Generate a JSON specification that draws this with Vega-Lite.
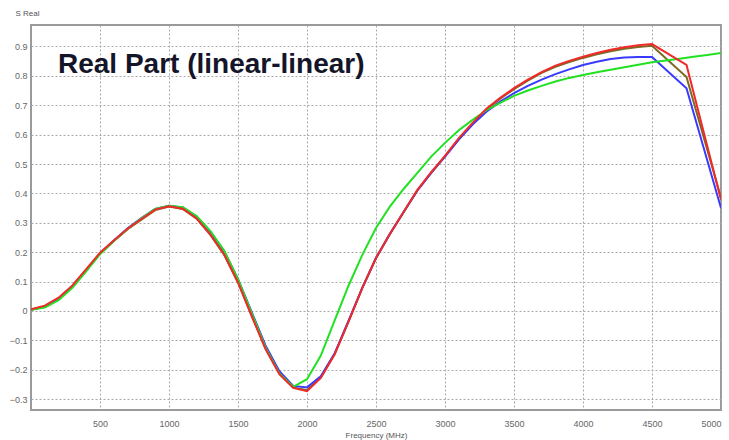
{
  "$schema": "https://vega.github.io/schema/vega-lite/v6.json",
  "width": 690,
  "height": 385,
  "autosize": "none",
  "padding": {"left": 31, "top": 25, "right": 8, "bottom": 30},
  "background": "white",
  "config": {
    "view": {"stroke": "#9a9a9a", "strokeWidth": 2},
    "font": "Liberation Sans"
  },
  "title": {
    "text": "Real Part (linear-linear)",
    "anchor": "start",
    "frame": "group",
    "offset": -70,
    "dx": 27,
    "fontSize": 28,
    "fontWeight": "bold",
    "font": "Liberation Sans",
    "color": "#15152a"
  },
  "data": {
    "values": [
      {"s":"olive","f":0,"v":0.004},{"s":"olive","f":100,"v":0.015},{"s":"olive","f":200,"v":0.042},{"s":"olive","f":300,"v":0.084},{"s":"olive","f":400,"v":0.139},{"s":"olive","f":500,"v":0.195},{"s":"olive","f":600,"v":0.238},{"s":"olive","f":700,"v":0.278},{"s":"olive","f":800,"v":0.311},{"s":"olive","f":900,"v":0.343},{"s":"olive","f":1000,"v":0.355},{"s":"olive","f":1100,"v":0.347},{"s":"olive","f":1200,"v":0.314},{"s":"olive","f":1300,"v":0.259},{"s":"olive","f":1400,"v":0.191},{"s":"olive","f":1500,"v":0.097},{"s":"olive","f":1600,"v":-0.017},{"s":"olive","f":1700,"v":-0.129},{"s":"olive","f":1800,"v":-0.213},{"s":"olive","f":1900,"v":-0.26},{"s":"olive","f":2000,"v":-0.27},{"s":"olive","f":2100,"v":-0.226},{"s":"olive","f":2200,"v":-0.146},{"s":"olive","f":2300,"v":-0.036},{"s":"olive","f":2400,"v":0.078},{"s":"olive","f":2500,"v":0.18},{"s":"olive","f":2600,"v":0.261},{"s":"olive","f":2700,"v":0.336},{"s":"olive","f":2800,"v":0.41},{"s":"olive","f":2900,"v":0.47},{"s":"olive","f":3000,"v":0.526},{"s":"olive","f":3100,"v":0.585},{"s":"olive","f":3200,"v":0.637},{"s":"olive","f":3300,"v":0.685},{"s":"olive","f":3400,"v":0.722},{"s":"olive","f":3500,"v":0.755},{"s":"olive","f":3600,"v":0.784},{"s":"olive","f":3700,"v":0.81},{"s":"olive","f":3800,"v":0.831},{"s":"olive","f":3900,"v":0.847},{"s":"olive","f":4000,"v":0.861},{"s":"olive","f":4100,"v":0.873},{"s":"olive","f":4200,"v":0.884},{"s":"olive","f":4300,"v":0.892},{"s":"olive","f":4400,"v":0.898},{"s":"olive","f":4500,"v":0.902},{"s":"olive","f":4750,"v":0.796},{"s":"olive","f":5000,"v":0.385},

      {"s":"blue","f":0,"v":0.005},{"s":"blue","f":100,"v":0.015},{"s":"blue","f":200,"v":0.042},{"s":"blue","f":300,"v":0.084},{"s":"blue","f":400,"v":0.139},{"s":"blue","f":500,"v":0.196},{"s":"blue","f":600,"v":0.24},{"s":"blue","f":700,"v":0.281},{"s":"blue","f":800,"v":0.316},{"s":"blue","f":900,"v":0.347},{"s":"blue","f":1000,"v":0.358},{"s":"blue","f":1100,"v":0.352},{"s":"blue","f":1200,"v":0.321},{"s":"blue","f":1300,"v":0.27},{"s":"blue","f":1400,"v":0.203},{"s":"blue","f":1500,"v":0.108},{"s":"blue","f":1600,"v":-0.005},{"s":"blue","f":1700,"v":-0.118},{"s":"blue","f":1800,"v":-0.205},{"s":"blue","f":1900,"v":-0.255},{"s":"blue","f":2000,"v":-0.26},{"s":"blue","f":2100,"v":-0.222},{"s":"blue","f":2200,"v":-0.145},{"s":"blue","f":2300,"v":-0.035},{"s":"blue","f":2400,"v":0.078},{"s":"blue","f":2500,"v":0.18},{"s":"blue","f":2600,"v":0.262},{"s":"blue","f":2700,"v":0.337},{"s":"blue","f":2800,"v":0.41},{"s":"blue","f":2900,"v":0.47},{"s":"blue","f":3000,"v":0.525},{"s":"blue","f":3100,"v":0.583},{"s":"blue","f":3200,"v":0.634},{"s":"blue","f":3300,"v":0.678},{"s":"blue","f":3400,"v":0.712},{"s":"blue","f":3500,"v":0.741},{"s":"blue","f":3600,"v":0.766},{"s":"blue","f":3700,"v":0.787},{"s":"blue","f":3800,"v":0.806},{"s":"blue","f":3900,"v":0.822},{"s":"blue","f":4000,"v":0.837},{"s":"blue","f":4100,"v":0.848},{"s":"blue","f":4200,"v":0.857},{"s":"blue","f":4300,"v":0.862},{"s":"blue","f":4400,"v":0.864},{"s":"blue","f":4500,"v":0.864},{"s":"blue","f":4750,"v":0.758},{"s":"blue","f":5000,"v":0.35},

      {"s":"green","f":0,"v":0.004},{"s":"green","f":100,"v":0.012},{"s":"green","f":200,"v":0.037},{"s":"green","f":300,"v":0.079},{"s":"green","f":400,"v":0.135},{"s":"green","f":500,"v":0.193},{"s":"green","f":600,"v":0.238},{"s":"green","f":700,"v":0.279},{"s":"green","f":800,"v":0.315},{"s":"green","f":900,"v":0.347},{"s":"green","f":1000,"v":0.358},{"s":"green","f":1100,"v":0.353},{"s":"green","f":1200,"v":0.323},{"s":"green","f":1300,"v":0.272},{"s":"green","f":1400,"v":0.205},{"s":"green","f":1500,"v":0.108},{"s":"green","f":1600,"v":-0.008},{"s":"green","f":1700,"v":-0.125},{"s":"green","f":1800,"v":-0.213},{"s":"green","f":1900,"v":-0.258},{"s":"green","f":2000,"v":-0.232},{"s":"green","f":2100,"v":-0.152},{"s":"green","f":2200,"v":-0.033},{"s":"green","f":2300,"v":0.085},{"s":"green","f":2400,"v":0.19},{"s":"green","f":2500,"v":0.282},{"s":"green","f":2600,"v":0.355},{"s":"green","f":2700,"v":0.415},{"s":"green","f":2800,"v":0.47},{"s":"green","f":2900,"v":0.525},{"s":"green","f":3000,"v":0.572},{"s":"green","f":3100,"v":0.615},{"s":"green","f":3200,"v":0.65},{"s":"green","f":3300,"v":0.683},{"s":"green","f":3400,"v":0.708},{"s":"green","f":3500,"v":0.732},{"s":"green","f":3600,"v":0.75},{"s":"green","f":3700,"v":0.766},{"s":"green","f":3800,"v":0.781},{"s":"green","f":3900,"v":0.793},{"s":"green","f":4000,"v":0.803},{"s":"green","f":4100,"v":0.812},{"s":"green","f":4200,"v":0.821},{"s":"green","f":4300,"v":0.829},{"s":"green","f":4400,"v":0.838},{"s":"green","f":4500,"v":0.846},{"s":"green","f":4600,"v":0.852},{"s":"green","f":4700,"v":0.858},{"s":"green","f":4800,"v":0.865},{"s":"green","f":4900,"v":0.871},{"s":"green","f":5000,"v":0.878},

      {"s":"red","f":0,"v":0.006},{"s":"red","f":100,"v":0.018},{"s":"red","f":200,"v":0.045},{"s":"red","f":300,"v":0.087},{"s":"red","f":400,"v":0.142},{"s":"red","f":500,"v":0.198},{"s":"red","f":600,"v":0.24},{"s":"red","f":700,"v":0.28},{"s":"red","f":800,"v":0.313},{"s":"red","f":900,"v":0.345},{"s":"red","f":1000,"v":0.356},{"s":"red","f":1100,"v":0.348},{"s":"red","f":1200,"v":0.315},{"s":"red","f":1300,"v":0.26},{"s":"red","f":1400,"v":0.192},{"s":"red","f":1500,"v":0.097},{"s":"red","f":1600,"v":-0.018},{"s":"red","f":1700,"v":-0.13},{"s":"red","f":1800,"v":-0.215},{"s":"red","f":1900,"v":-0.262},{"s":"red","f":2000,"v":-0.273},{"s":"red","f":2100,"v":-0.228},{"s":"red","f":2200,"v":-0.148},{"s":"red","f":2300,"v":-0.037},{"s":"red","f":2400,"v":0.078},{"s":"red","f":2500,"v":0.18},{"s":"red","f":2600,"v":0.262},{"s":"red","f":2700,"v":0.337},{"s":"red","f":2800,"v":0.412},{"s":"red","f":2900,"v":0.472},{"s":"red","f":3000,"v":0.528},{"s":"red","f":3100,"v":0.588},{"s":"red","f":3200,"v":0.64},{"s":"red","f":3300,"v":0.688},{"s":"red","f":3400,"v":0.725},{"s":"red","f":3500,"v":0.758},{"s":"red","f":3600,"v":0.787},{"s":"red","f":3700,"v":0.813},{"s":"red","f":3800,"v":0.835},{"s":"red","f":3900,"v":0.851},{"s":"red","f":4000,"v":0.865},{"s":"red","f":4100,"v":0.878},{"s":"red","f":4200,"v":0.889},{"s":"red","f":4300,"v":0.897},{"s":"red","f":4400,"v":0.904},{"s":"red","f":4500,"v":0.908},{"s":"red","f":4750,"v":0.837},{"s":"red","f":5000,"v":0.378}
    ]
  },
  "mark": {"type": "line", "strokeWidth": 2, "clip": true},
  "encoding": {
    "x": {
      "field": "f",
      "type": "quantitative",
      "scale": {"domain": [0, 5000], "nice": false, "zero": false},
      "axis": {
        "values": [500, 1000, 1500, 2000, 2500, 3000, 3500, 4000, 4500, 5000],
        "format": "d",
        "grid": true,
        "gridDash": [2, 2],
        "gridColor": "#a8a8a8",
        "gridWidth": 1,
        "domain": false,
        "ticks": false,
        "tickSize": 0,
        "labelFontSize": 9,
        "labelColor": "#666666",
        "labelPadding": 9,
        "labelFont": "Liberation Sans",
        "title": "Frequency (MHz)",
        "titleFontSize": 8,
        "titleFontWeight": "normal",
        "titleColor": "#555555",
        "titleFont": "Liberation Sans",
        "titlePadding": 3
      }
    },
    "y": {
      "field": "v",
      "type": "quantitative",
      "scale": {"domain": [-0.337, 0.973], "nice": false, "zero": false},
      "axis": {
        "values": [-0.3, -0.2, -0.1, 0, 0.1, 0.2, 0.3, 0.4, 0.5, 0.6, 0.7, 0.8, 0.9],
        "labelExpr": "datum.value == 0 ? '0' : format(datum.value, '.1f')",
        "grid": true,
        "gridDash": [2, 2],
        "gridColor": "#a8a8a8",
        "gridWidth": 1,
        "domain": false,
        "ticks": false,
        "tickSize": 0,
        "labelFontSize": 9,
        "labelColor": "#666666",
        "labelPadding": 4,
        "labelFont": "Liberation Sans",
        "title": "S Real",
        "titleAngle": 0,
        "titleX": -4,
        "titleY": -12,
        "titleAlign": "center",
        "titleBaseline": "middle",
        "titleFontSize": 8,
        "titleFontWeight": "normal",
        "titleColor": "#555555",
        "titleFont": "Liberation Sans"
      }
    },
    "color": {
      "field": "s",
      "type": "nominal",
      "scale": {
        "domain": ["olive", "blue", "green", "red"],
        "range": ["#7a6a22", "#3a3aff", "#22e022", "#f02a2a"]
      },
      "legend": null
    },
    "order": {"field": "f", "type": "quantitative"}
  }
}
